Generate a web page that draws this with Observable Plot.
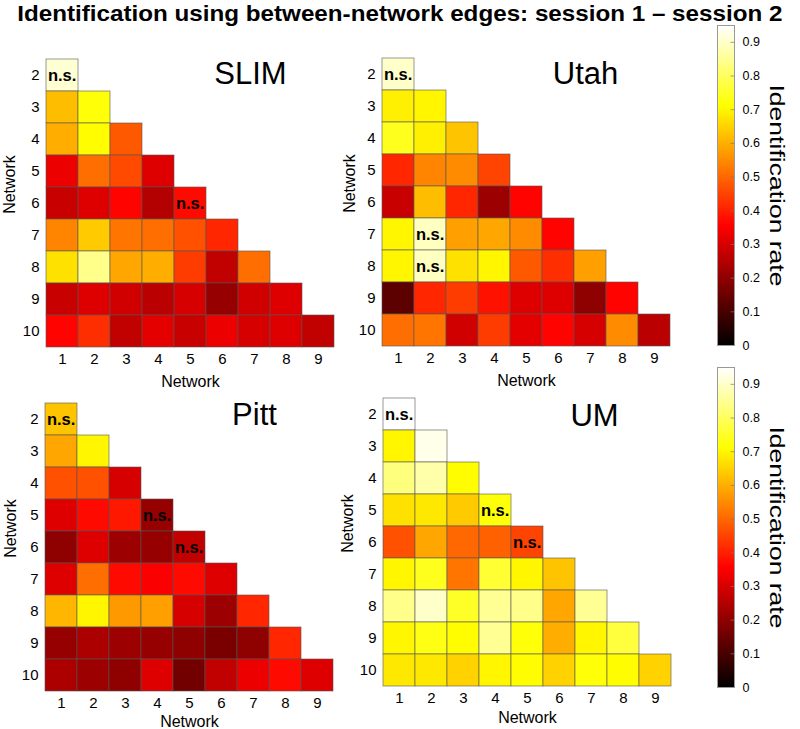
<!DOCTYPE html>
<html><head><meta charset="utf-8">
<script src="https://cdn.jsdelivr.net/npm/d3@7"></script>
<script src="https://cdn.jsdelivr.net/npm/@observablehq/plot@0.6"></script>
<style>
body{margin:0;overflow:hidden;background:#fff;font-family:"Liberation Sans",Arial,sans-serif}
#wrap{position:relative;width:800px;height:729px;overflow:hidden}
#wrap > *{position:absolute}
#title{left:0;width:800px;top:1px;text-align:center;margin:0;white-space:nowrap}
#title span{display:inline-block;font-weight:bold;font-size:22px;transform:scaleX(1.1);transform-origin:center}
</style></head><body>
<div id="wrap"><div id="title"><span>Identification using between-network edges: session 1 – session 2</span></div></div>
<script>
// ---- data ----
const rows = [2,3,4,5,6,7,8,9,10];
const cols = [1,2,3,4,5,6,7,8,9];
const colorTicks = [0,0.1,0.2,0.3,0.4,0.5,0.6,0.7,0.8,0.9];
const colorMax = 0.95;

const SLIM = [
  [0.91],
  [0.62,0.72],
  [0.60,0.71,0.48],
  [0.33,0.51,0.46,0.31],
  [0.28,0.31,0.36,0.25,0.37],
  [0.54,0.64,0.52,0.51,0.47,0.41],
  [0.67,0.84,0.59,0.60,0.44,0.27,0.51],
  [0.28,0.31,0.29,0.26,0.30,0.21,0.29,0.31],
  [0.36,0.42,0.27,0.32,0.28,0.33,0.30,0.31,0.27]
];
const SLIM_ns = [[2,1],[6,5]];

const Utah = [
  [0.90],
  [0.69,0.70],
  [0.74,0.69,0.63],
  [0.41,0.54,0.55,0.45],
  [0.28,0.62,0.41,0.22,0.36],
  [0.70,0.89,0.58,0.59,0.55,0.36],
  [0.70,0.89,0.67,0.70,0.48,0.42,0.58],
  [0.13,0.41,0.44,0.38,0.31,0.31,0.20,0.36],
  [0.51,0.52,0.29,0.44,0.32,0.36,0.30,0.55,0.26]
];
const Utah_ns = [[2,1],[7,2],[8,2]];

const Pitt = [
  [0.63],
  [0.59,0.70],
  [0.47,0.47,0.30],
  [0.31,0.37,0.39,0.21],
  [0.20,0.31,0.22,0.21,0.27],
  [0.31,0.51,0.37,0.35,0.37,0.31],
  [0.61,0.70,0.57,0.58,0.30,0.22,0.41],
  [0.21,0.24,0.22,0.21,0.20,0.17,0.20,0.41],
  [0.24,0.22,0.20,0.31,0.16,0.27,0.33,0.37,0.31]
];
const Pitt_ns = [[2,1],[5,4],[6,5]];

const UM = [
  [0.95],
  [0.70,0.93],
  [0.83,0.87,0.71],
  [0.67,0.68,0.64,0.72],
  [0.47,0.59,0.50,0.49,0.45],
  [0.70,0.74,0.52,0.76,0.70,0.63],
  [0.84,0.90,0.75,0.85,0.84,0.59,0.85],
  [0.70,0.73,0.71,0.85,0.72,0.60,0.70,0.77],
  [0.68,0.68,0.65,0.70,0.71,0.65,0.72,0.71,0.65]
];
const UM_ns = [[2,1],[5,4],[6,5]];

// ---- rendering ----
const FONT = "Liberation Sans, Arial, Helvetica, sans-serif";
const wrap = document.getElementById("wrap");
const clamp = v => Math.max(0, Math.min(1, v));
// MATLAB "hot" colormap
const hot = t => {
  const r = clamp(t / 0.375), g = clamp((t - 0.375) / 0.375), b = clamp((t - 0.75) / 0.25);
  return d3.rgb(r*255, g*255, b*255).toString();
};
const colorScale = {type:"linear", domain:[0, colorMax], interpolate: () => hot};

function panel(name, vals, ns, o) {
  const data = [];
  vals.forEach((r, i) => r.forEach((v, j) => data.push({row: rows[i], col: cols[j], value: v})));
  const nsData = ns.map(([row, col]) => ({row, col}));
  const mL = 50, mT = 35, mR = 10, mB = 45, size = 290, cw = size / 9;
  const p = Plot.plot({
    width: mL + size + mR, height: mT + size + mB,
    marginLeft: mL, marginTop: mT, marginRight: mR, marginBottom: mB,
    style: {fontFamily: FONT, fontSize: "15px", background: "transparent", overflow: "visible", color: "#000"},
    x: {type: "band", domain: cols, padding: 0},
    y: {type: "band", domain: rows, padding: 0},
    color: colorScale,
    marks: [
      Plot.cell(data, {x: "col", y: "row", fill: "value", stroke: "#555", strokeOpacity: 0.75, strokeWidth: 0.8, inset: 0}),
      Plot.text(nsData, {x: "col", y: "row", text: () => "n.s.", textAnchor: "start", dx: -cw/2 + 1.5, fontWeight: "bold", fontSize: 16.5, fill: "#000"}),
      Plot.axisX({tickSize: 0, tickPadding: 5, label: "Network", labelAnchor: "center", labelOffset: o.xlo, fontSize: 15}),
      Plot.axisY({tickSize: 0, tickPadding: 6, label: null, fontSize: 15}),
      Plot.text(["Network"], {frameAnchor: "left", textAnchor: "middle", rotate: -90, dx: o.ylx - o.ox, dy: -19, fontSize: 16, fill: "#000"}),
      Plot.text([name], {frameAnchor: "top-left", dx: o.tx - o.ox, dy: o.ty - o.oy, textAnchor: "middle", lineAnchor: "bottom", fontSize: 31, fill: "#000"})
    ]
  });
  // axis label font
  d3.select(p).selectAll("text").filter(function(){ return this.textContent === "Network"; }).attr("font-size", 16);
  p.style.left = (o.ox - mL) + "px";
  p.style.top = (o.oy - mT) + "px";
  wrap.append(p);
}

function colorbar(top) {
  const h = 320, mT = 12, mB = 12, w = 17, mR = 66;
  const p = Plot.plot({
    width: w + mR, height: h + mT + mB,
    marginLeft: 0, marginRight: mR, marginTop: mT, marginBottom: mB,
    style: {fontFamily: FONT, fontSize: "12.5px", background: "transparent", overflow: "visible", color: "#000"},
    x: {domain: [0, 1], axis: null},
    y: {domain: [0, colorMax]},
    color: colorScale,
    marks: [
      Plot.raster({fill: (x, y) => y, x1: 0, x2: 1, y1: 0, y2: colorMax, width: 1, height: 320, imageRendering: "auto"}),
      Plot.ruleY(colorTicks, {x1: 0.8, x2: 1, stroke: "#777", strokeWidth: 0.7}),
      Plot.frame({stroke: "#999"}),
      Plot.axisY({anchor: "right", ticks: colorTicks, tickSize: 0, tickPadding: 8, label: null, tickFormat: d => d === 0 ? "0" : d3.format(".1f")(d)}),
      Plot.text(["Identification rate"], {frameAnchor: "right", textAnchor: "middle", rotate: 90, dx: 42, fontSize: 20, fill: "#000"})
    ]
  });
  d3.select(p).selectAll("text").filter(function(){ return this.textContent === "Identification rate"; })
    .attr("textLength", 202).attr("lengthAdjust", "spacingAndGlyphs");
  p.style.left = "717px";
  p.style.top = (top - mT) + "px";
  wrap.append(p);
}

panel("SLIM", SLIM, SLIM_ns, {ox: 45, oy: 58, tx: 250, ty: 83, ylx: 9, xlo: 38});
panel("Utah", Utah, Utah_ns, {ox: 381, oy: 57, tx: 585, ty: 83, ylx: 349, xlo: 38});
panel("Pitt", Pitt, Pitt_ns, {ox: 44, oy: 402, tx: 254, ty: 424, ylx: 10, xlo: 34});
panel("UM", UM, UM_ns, {ox: 382, oy: 397, tx: 594, ty: 425, ylx: 347, xlo: 35});
colorbar(25);
colorbar(367);
</script>
</body></html>
